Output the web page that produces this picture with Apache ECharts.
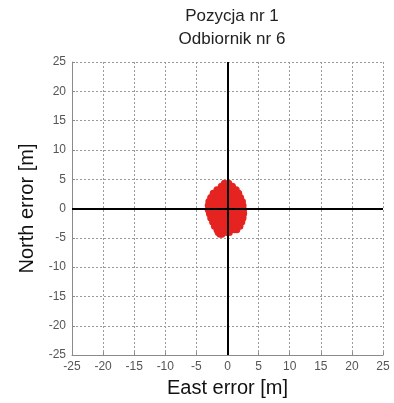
<!DOCTYPE html>
<html>
<head>
<meta charset="utf-8">
<script src="https://cdn.jsdelivr.net/npm/echarts@6/dist/echarts.min.js"></script>
<style>
  html, body { margin: 0; padding: 0; background: #fff; }
  #chart { width: 394px; height: 403px; }
</style>
</head>
<body>
<div id="chart"></div>
<script>
// Position errors of receiver 6 at position 1, in metres (east, north)
const eastError = [
  -0.5, 0.2,
  -1.0, -0.3, 0.4, 0.8,
  -1.7, -1.0, -0.3, 0.4, 1.1, 1.4,
  -2.3, -1.6, -0.9, -0.2, 0.5, 1.2, 1.8,
  -2.7, -2.0, -1.3, -0.6, 0.1, 0.8, 1.5, 2.1,
  -3.0, -2.3, -1.6, -0.9, -0.2, 0.5, 1.2, 1.9, 2.4,
  -3.1, -2.4, -1.7, -1.0, -0.3, 0.4, 1.1, 1.8, 2.5,
  -3.1, -2.4, -1.7, -1.0, -0.3, 0.4, 1.1, 1.8, 2.6,
  -2.9, -2.2, -1.5, -0.8, -0.1, 0.6, 1.3, 2.0, 2.6,
  -2.7, -2.0, -1.3, -0.6, 0.1, 0.8, 1.5, 2.2, 2.5,
  -2.4, -1.7, -1.0, -0.3, 0.4, 1.1, 1.8, 2.3,
  -2.1, -1.4, -0.7, 0.0, 0.7, 1.4, 2.0,
  -1.7, -1.0, -0.3, 0.4, 1.1, 1.5,
  -1.5, -0.8, -0.1, 0.3,
  -1.2, -0.9
];
const northError = [
  4.3, 4.3,
  3.8, 3.8, 3.8, 3.8,
  3.2, 3.2, 3.2, 3.2, 3.2, 3.2,
  2.6, 2.6, 2.6, 2.6, 2.6, 2.6, 2.6,
  1.9, 1.9, 1.9, 1.9, 1.9, 1.9, 1.9, 1.9,
  1.2, 1.2, 1.2, 1.2, 1.2, 1.2, 1.2, 1.2, 1.2,
  0.5, 0.5, 0.5, 0.5, 0.5, 0.5, 0.5, 0.5, 0.5,
  -0.2, -0.2, -0.2, -0.2, -0.2, -0.2, -0.2, -0.2, -0.2,
  -0.9, -0.9, -0.9, -0.9, -0.9, -0.9, -0.9, -0.9, -0.9,
  -1.6, -1.6, -1.6, -1.6, -1.6, -1.6, -1.6, -1.6, -1.6,
  -2.3, -2.3, -2.3, -2.3, -2.3, -2.3, -2.3, -2.3,
  -3.0, -3.0, -3.0, -3.0, -3.0, -3.0, -3.0,
  -3.6, -3.6, -3.6, -3.6, -3.6, -3.6,
  -4.1, -4.1, -4.1, -4.1,
  -4.4, -4.4
];
const axisMin = -25;
const axisMax = 25;
const tickStep = 5;

const points = eastError.map((e, i) => [e, northError[i]]);
const font = '"Liberation Sans", Arial, sans-serif';

const axisCommon = {
  min: axisMin,
  max: axisMax,
  interval: tickStep,
  nameLocation: 'middle',
  nameTextStyle: { fontFamily: font, fontSize: 20, color: '#111' },
  axisLine: { onZero: false, lineStyle: { color: '#8a8a8a', width: 1 } },
  axisTick: { inside: true, length: 3, lineStyle: { color: '#8a8a8a' } },
  axisLabel: { fontFamily: font, fontSize: 12, color: '#555' },
  splitLine: { show: true, lineStyle: { color: '#9a9a9a', type: [2, 2], width: 1 } }
};

const chart = echarts.init(document.getElementById('chart'), null, { renderer: 'canvas' });
chart.setOption({
  animation: false,
  backgroundColor: '#fff',
  title: {
    text: 'Pozycja nr 1\nOdbiornik nr 6',
    left: 227,
    textAlign: 'center',
    top: 0,
    textStyle: { fontFamily: font, fontSize: 17, fontWeight: 'normal', color: '#222', lineHeight: 23 }
  },
  grid: { left: 72, right: 11, top: 62, bottom: 46 },
  xAxis: Object.assign({}, axisCommon, {
    type: 'value',
    name: 'East error [m]',
    nameGap: 18,
    axisLabel: Object.assign({}, axisCommon.axisLabel, { margin: 6 })
  }),
  yAxis: Object.assign({}, axisCommon, {
    type: 'value',
    name: 'North error [m]',
    nameGap: 34,
    axisLabel: Object.assign({}, axisCommon.axisLabel, { margin: 6 })
  }),
  series: [
    {
      type: 'scatter',
      data: points,
      symbol: 'circle',
      symbolSize: 7,
      itemStyle: { color: '#e52421', opacity: 1 },
      z: 2
    },
    {
      type: 'scatter',
      data: [],
      z: 5,
      markLine: {
        silent: true,
        symbol: 'none',
        label: { show: false },
        lineStyle: { color: '#000', width: 2, type: 'solid' },
        data: [{ xAxis: 0 }, { yAxis: 0 }]
      }
    }
  ]
});
</script>
</body>
</html>
